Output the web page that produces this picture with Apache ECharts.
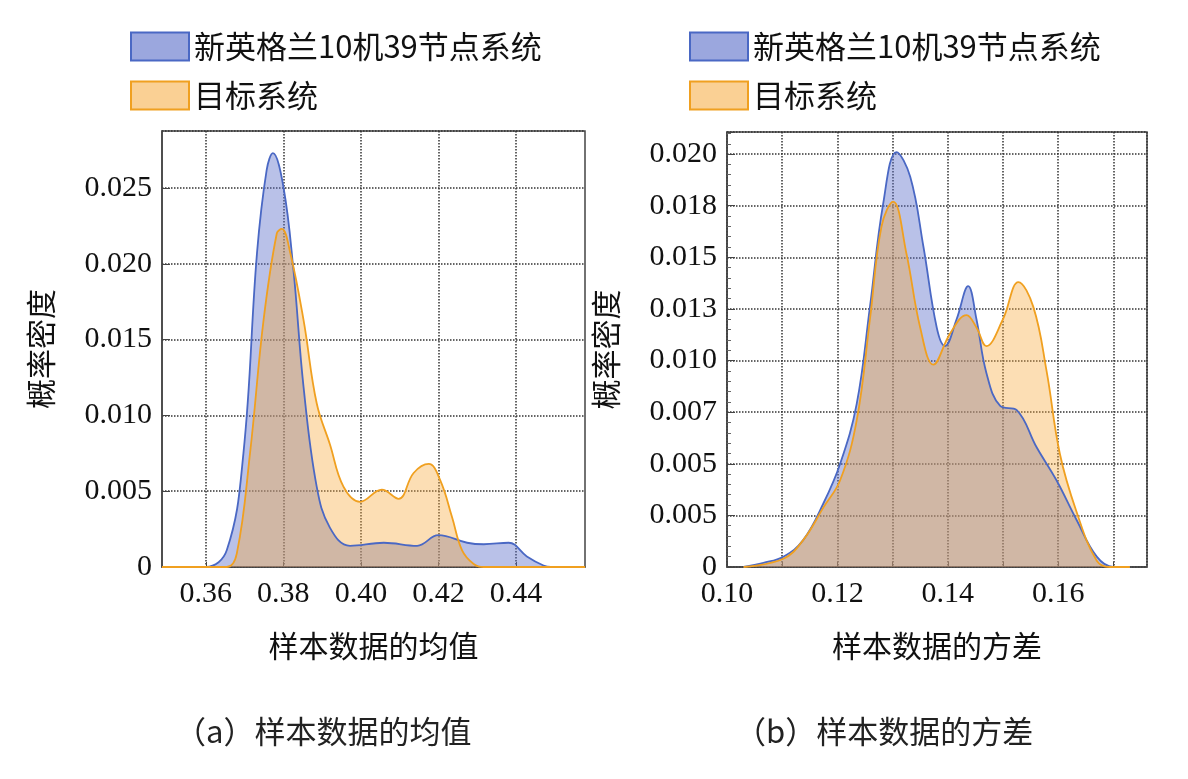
<!DOCTYPE html>
<html><head><meta charset="utf-8">
<script src="https://cdn.jsdelivr.net/npm/echarts@6/dist/echarts.min.js"></script>
<style>html,body{margin:0;background:#fff}#c{width:1188px;height:779px}</style>
</head><body><div id="c"></div>
<script>
const seriesNames = ['新英格兰10机39节点系统', '目标系统'];
const meanTicks = [0.36,0.38,0.40,0.42,0.44];
const meanBlue = [[0.3487,0],[0.355,0],[0.36,0],[0.3654,0.0011],[0.3697,0.0075],[0.3732,0.0207],[0.3757,0.0262],[0.3773,0.0273],[0.380,0.0251],[0.3826,0.0196],[0.3852,0.0119],[0.3886,0.0053],[0.392,0.0026],[0.3972,0.0014],[0.4059,0.0016],[0.4145,0.0014],[0.420,0.0021],[0.4274,0.0016],[0.4317,0.0015],[0.4381,0.0016],[0.4428,0.0007],[0.4471,0.0001],[0.449,0],[0.4578,0]];
const meanOrange = [[0.3487,0],[0.3654,0],[0.368,0.0009],[0.3714,0.0075],[0.3749,0.0163],[0.3783,0.022],[0.3796,0.0223],[0.3818,0.0207],[0.3852,0.0163],[0.3886,0.0108],[0.392,0.0081],[0.3955,0.0053],[0.3998,0.0043],[0.4054,0.0051],[0.4097,0.0045],[0.4136,0.0062],[0.4175,0.0068],[0.4205,0.0057],[0.4235,0.0033],[0.4261,0.0011],[0.4291,0.0002],[0.4317,0],[0.4578,0]];
const varBlue = [[0.103,0],[0.1066,0.0002],[0.1102,0.0005],[0.1138,0.0013],[0.1175,0.0031],[0.1205,0.005],[0.1235,0.0079],[0.1259,0.0126],[0.1283,0.0176],[0.1307,0.0201],[0.1332,0.0189],[0.1356,0.0155],[0.138,0.0116],[0.1395,0.0107],[0.1416,0.012],[0.1437,0.0136],[0.1452,0.012],[0.147,0.0094],[0.1495,0.0078],[0.1525,0.0076],[0.1561,0.0058],[0.1597,0.0042],[0.1633,0.0023],[0.167,0.0005],[0.170,0],[0.173,0]];
const varOrange = [[0.103,0],[0.1102,0.0004],[0.1138,0.0013],[0.1175,0.0029],[0.1205,0.0042],[0.1235,0.0071],[0.1259,0.012],[0.128,0.0165],[0.1301,0.0177],[0.1325,0.0152],[0.135,0.0116],[0.1374,0.0098],[0.1404,0.0113],[0.1434,0.0122],[0.1452,0.0116],[0.147,0.0107],[0.150,0.012],[0.1528,0.0138],[0.1555,0.0126],[0.1579,0.0095],[0.1603,0.0055],[0.1633,0.0027],[0.167,0.0003],[0.1694,0],[0.173,0]];
const varYLabels = ['0','0.005','0.005','0.007','0.010','0.013','0.015','0.018','0.020'];
const captions = ['（a）样本数据的均值','（b）样本数据的方差'];
const xNames = ['样本数据的均值','样本数据的方差'];
const yName = '概率密度';

const numFont = 'Liberation Serif';
const cjk = '"Noto Sans CJK SC"';
const blueLine = '#4a68c4', blueFill = 'rgba(88,108,200,0.6)';
const orgLine = '#f0a020', orgFill = 'rgba(246,170,60,0.55)';
const grid = (l,t,w,h)=>({left:l,top:t,width:w,height:h,show:true,borderColor:'#444',borderWidth:1.5,backgroundColor:'transparent'});
const split = {show:true,lineStyle:{type:'dotted',color:'#333',width:1.5}};
const lab = {color:'#111',fontFamily:numFont,fontSize:30};
function xAxis(i,min,max,interval,fmt,extra){return Object.assign({type:'value',gridIndex:i,min,max,interval,
  axisLine:{lineStyle:{color:'#444',width:1.5}},axisTick:{inside:true,length:5,lineStyle:{color:'#444'}},
  splitLine:split,axisLabel:Object.assign({},lab,{margin:12,formatter:fmt,showMinLabel:false,showMaxLabel:false}),
  name:xNames[i],nameLocation:'middle',nameGap:64,nameTextStyle:{fontFamily:cjk,fontSize:30,color:'#111'}},extra||{});}
function yAxis(i,max,interval,fmt,extra){return Object.assign({type:'value',gridIndex:i,min:0,max,interval,
  axisLine:{lineStyle:{color:'#444',width:1.5}},axisTick:{inside:true,length:8,lineStyle:{color:'#444'}},
  splitLine:split,axisLabel:Object.assign({},lab,{margin:10,formatter:fmt,showMaxLabel:false}),
  name:yName,nameLocation:'middle',nameGap:106,nameRotate:90,nameTextStyle:{fontFamily:cjk,fontSize:30,color:'#111'}},extra||{});}
function s(name,data,xi,line,fill){return {name,type:'line',xAxisIndex:xi,yAxisIndex:xi,data,smooth:0.4,symbol:'none',
  lineStyle:{color:line,width:1.8},itemStyle:{color:fill,borderColor:line,borderWidth:1.5},areaStyle:{color:fill}};}
const legendBase = {orient:'vertical',icon:'rect',itemWidth:58,itemHeight:28,itemGap:18,
  textStyle:{fontFamily:cjk,fontSize:31,color:'#111'},data:seriesNames,selectedMode:false};
const chart = echarts.init(document.getElementById('c'));
chart.setOption({
  animation:false,
  grid:[grid(162,131,423,436),grid(727,132,420,435)],
  legend:[Object.assign({left:125,top:26},legendBase),Object.assign({left:684,top:26},legendBase)],
  xAxis:[xAxis(0,0.3487,0.4578,0.02,v=>v.toFixed(2),{
           axisTick:{inside:true,length:5,lineStyle:{color:'#444'},customValues:meanTicks},
           axisLabel:Object.assign({},lab,{margin:12,customValues:meanTicks,formatter:v=>v.toFixed(2)})}),
         xAxis(1,0.10,0.1761,0.01,null,{axisLabel:Object.assign({},lab,{margin:12,showMaxLabel:false,formatter:v=>Math.round(v*100)%2===0?v.toFixed(2):''})})],
  yAxis:[yAxis(0,0.02876,0.005,v=>v===0?'0':v.toFixed(3)),
         yAxis(1,0.02107,0.0025,v=>varYLabels[Math.round(v/0.0025)]||'',{minorTick:{show:true,splitNumber:5,length:4,lineStyle:{color:'#666'}}})],
  series:[s(seriesNames[0],meanBlue,0,blueLine,blueFill),s(seriesNames[1],meanOrange,0,orgLine,orgFill),
          s(seriesNames[0],varBlue,1,blueLine,blueFill),s(seriesNames[1],varOrange,1,orgLine,orgFill)],
  graphic:[{type:'text',left:175,top:716,style:{text:captions[0],fontFamily:cjk,fontSize:31,fill:'#222'}},
           {type:'text',left:735,top:716,style:{text:captions[1],fontFamily:cjk,fontSize:31,fill:'#222'}}]
});
</script></body></html>
